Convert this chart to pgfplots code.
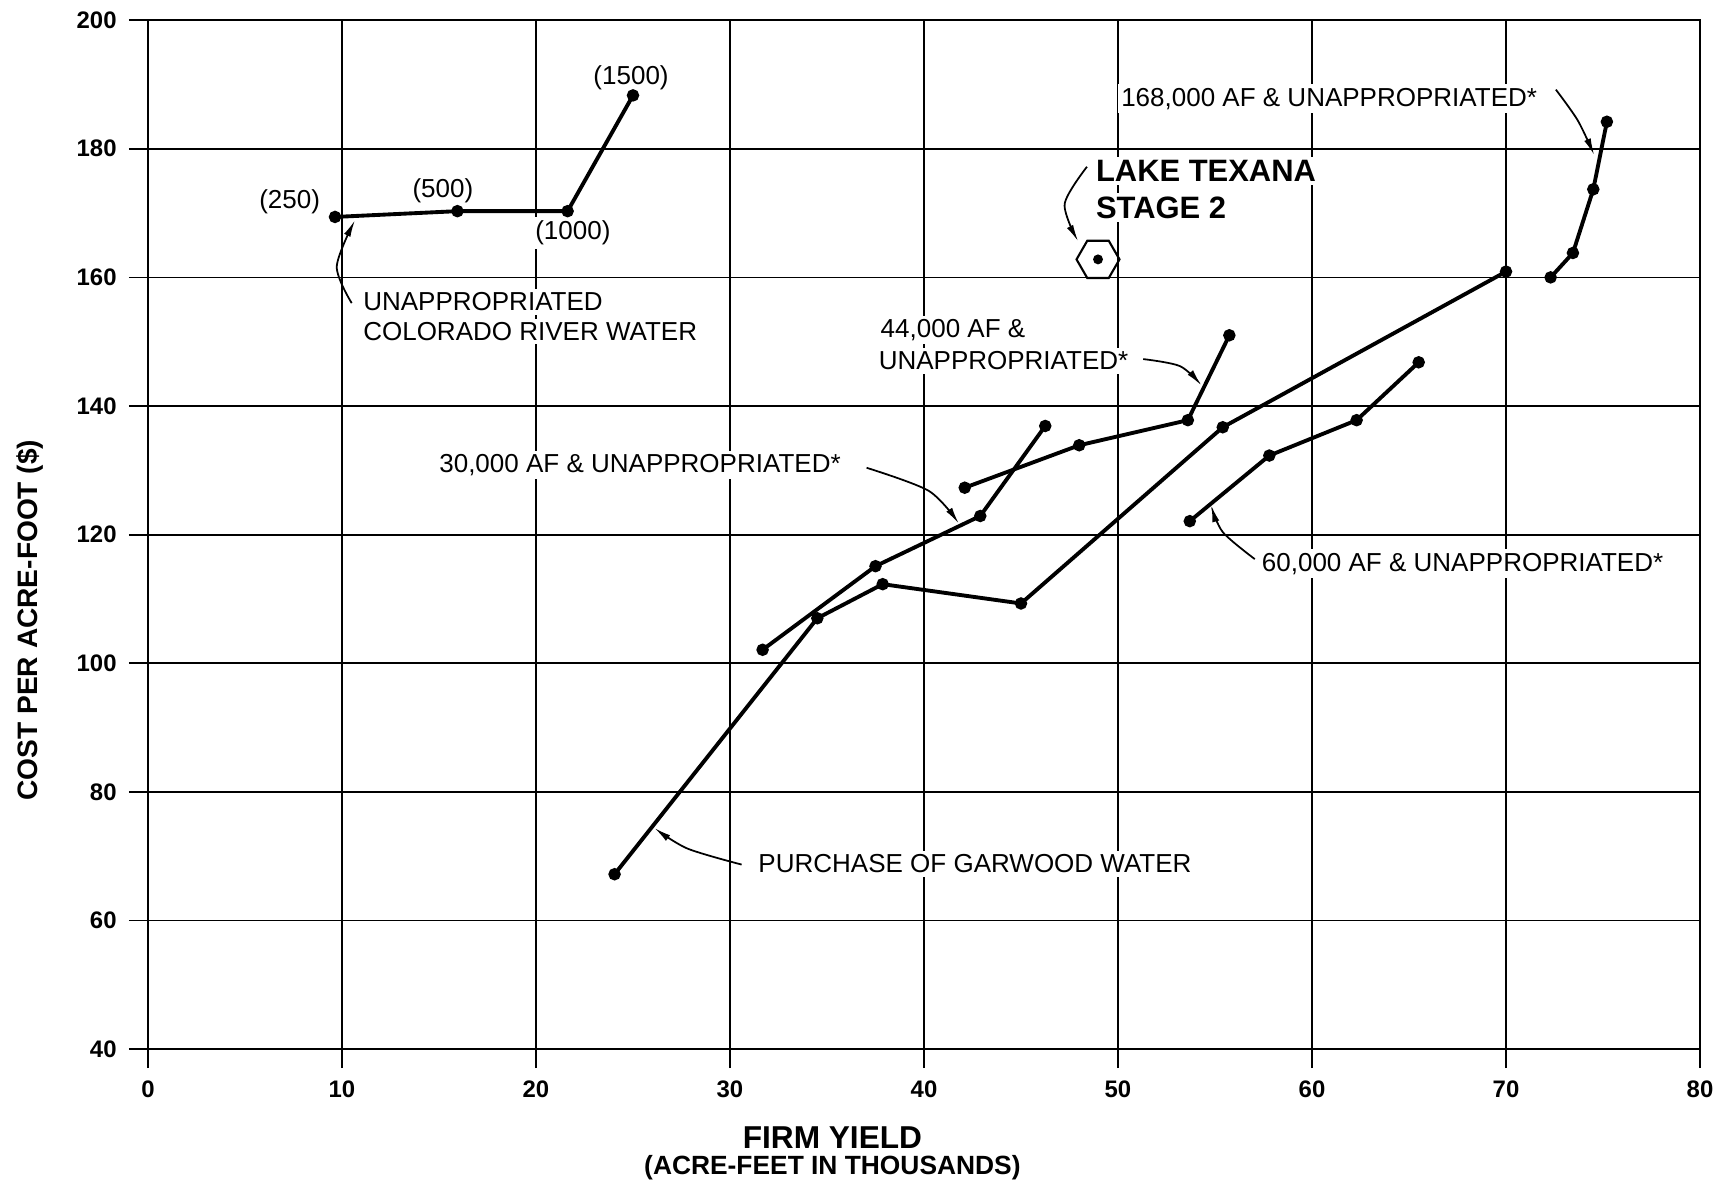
\documentclass[border=0pt]{standalone}
\usepackage{fontspec}
\setmainfont{Liberation Sans}
\usepackage{pgfplots}
\pgfplotsset{compat=1.18}
\usetikzlibrary{arrows.meta,shapes.geometric}
\pgfplotsset{ser/.style={black, solid, line width=1.1pt, mark=*, mark size=1.2pt, mark options={solid,fill=black}}}
\begin{document}
\begin{tikzpicture}
\begin{axis}[
 scale only axis, width=15.52cm, height=10.29cm,
 xmin=0,xmax=80,ymin=40,ymax=200,
 xtick={0,10,...,80}, ytick={40,60,...,200},
 grid=major, grid style={black, line width=0.5pt},
 axis line style={black,line width=0.6pt},
 tick align=outside, tick pos=left, major tick length=0.19cm,
 tick style={black,line width=0.5pt},
 ticklabel style={font=\fontsize{6.8}{7}\selectfont\bfseries},
 /pgf/number format/assume math mode=true,
 clip=false,
]
% Unappropriated Colorado River water
\addplot[ser] coordinates {(9.64,169.4) (15.95,170.3) (21.63,170.3) (25.0,188.3)};
% Purchase of Garwood water
\addplot[ser] coordinates {(24.05,67.2) (34.5,107.0) (37.87,112.3) (45.0,109.3) (55.4,136.7) (70.0,160.9)};
% 30,000 AF
\addplot[ser] coordinates {(31.68,102.1) (37.5,115.1) (42.9,122.9) (46.25,136.9)};
% 44,000 AF
\addplot[ser] coordinates {(42.1,127.3) (48.0,133.9) (53.6,137.8) (55.74,151.0)};
% 60,000 AF
\addplot[ser] coordinates {(53.7,122.1) (57.8,132.3) (62.3,137.8) (65.5,146.8)};
% 168,000 AF
\addplot[ser] coordinates {(72.3,160.0) (73.45,163.8) (74.5,173.7) (75.2,184.2)};
% Lake Texana Stage 2
\addplot[only marks, black, mark=*, mark size=1.2pt] coordinates {(48.97,162.8)};
\node[draw, line width=0.6pt, regular polygon, regular polygon sides=6, minimum size=0.43cm, inner sep=0pt] at (axis cs:48.97,162.8) {};

\tikzset{lab/.style={font=\fontsize{7.4}{9}\selectfont, inner sep=1pt, fill=white},
         arr/.style={line width=0.5pt, -{Latex[length=0.17cm,width=0.07cm]}}}
\node[lab] at (axis cs:7.3,171.7) {(250)};
\node[lab] at (axis cs:15.2,173.4) {(500)};
\node[lab] at (axis cs:21.9,166.9) {(1000)};
\node[lab] at (axis cs:24.9,191.1) {(1500)};
\node[lab,anchor=west] at (axis cs:10.88,156.2) {UNAPPROPRIATED};
\node[lab,anchor=west] at (axis cs:10.88,151.6) {COLORADO RIVER WATER};
\draw[arr] plot[smooth] coordinates {(10.5,156.0) (9.73,161.7) (10.67,168.9)};

\node[lab,anchor=west,font=\fontsize{8.8}{10}\selectfont\bfseries] at (axis cs:48.65,176.5) {LAKE TEXANA};
\node[lab,anchor=west,font=\fontsize{8.8}{10}\selectfont\bfseries] at (axis cs:48.65,170.8) {STAGE 2};
\draw[arr] plot[smooth] coordinates {(48.4,177.2) (47.25,171.4) (47.95,165.6)};

\node[lab,anchor=west] at (axis cs:49.95,187.8) {168,000 AF \& UNAPPROPRIATED*};
\draw[arr] plot[smooth] coordinates {(72.57,189.2) (73.7,184.4) (74.55,179.0)};

\node[lab,anchor=west] at (axis cs:37.55,151.8) {44,000 AF \&};
\node[lab,anchor=west] at (axis cs:37.45,147.0) {UNAPPROPRIATED*};
\draw[arr] plot[smooth] coordinates {(51.3,147.3) (53.2,146.2) (54.3,143.2)};

\node[lab,anchor=west] at (axis cs:14.8,130.8) {30,000 AF \& UNAPPROPRIATED*};
\draw[arr] plot[smooth] coordinates {(37.04,130.4) (40.25,126.8) (41.8,121.7)};

\node[lab,anchor=west] at (axis cs:57.2,115.5) {60,000 AF \& UNAPPROPRIATED*};
\draw[arr] plot[smooth] coordinates {(57.05,116.2) (55.4,120.4) (54.8,124.6)};

\node[lab,anchor=west] at (axis cs:31.25,68.8) {PURCHASE OF GARWOOD WATER};
\draw[arr] plot[smooth] coordinates {(30.6,68.7) (27.8,71.2) (26.1,74.4)};

\node[rotate=90, font=\fontsize{8}{9}\selectfont\bfseries, inner sep=0pt] at ([xshift=-1.18cm]rel axis cs:0,0.417) {COST PER ACRE-FOOT (\$)};
\node[font=\fontsize{9}{10}\selectfont\bfseries, inner sep=0pt] at ([yshift=-0.88cm]rel axis cs:0.441,0) {FIRM YIELD};
\node[font=\fontsize{7.5}{9}\selectfont\bfseries, inner sep=0pt] at ([yshift=-1.19cm]rel axis cs:0.441,0) {(ACRE-FEET IN THOUSANDS)};
\end{axis}
\path (current axis.south west) ++(-1.48cm,-1.39cm) (current axis.north east) ++(0.31cm,0.20cm);
\end{tikzpicture}
\end{document}
